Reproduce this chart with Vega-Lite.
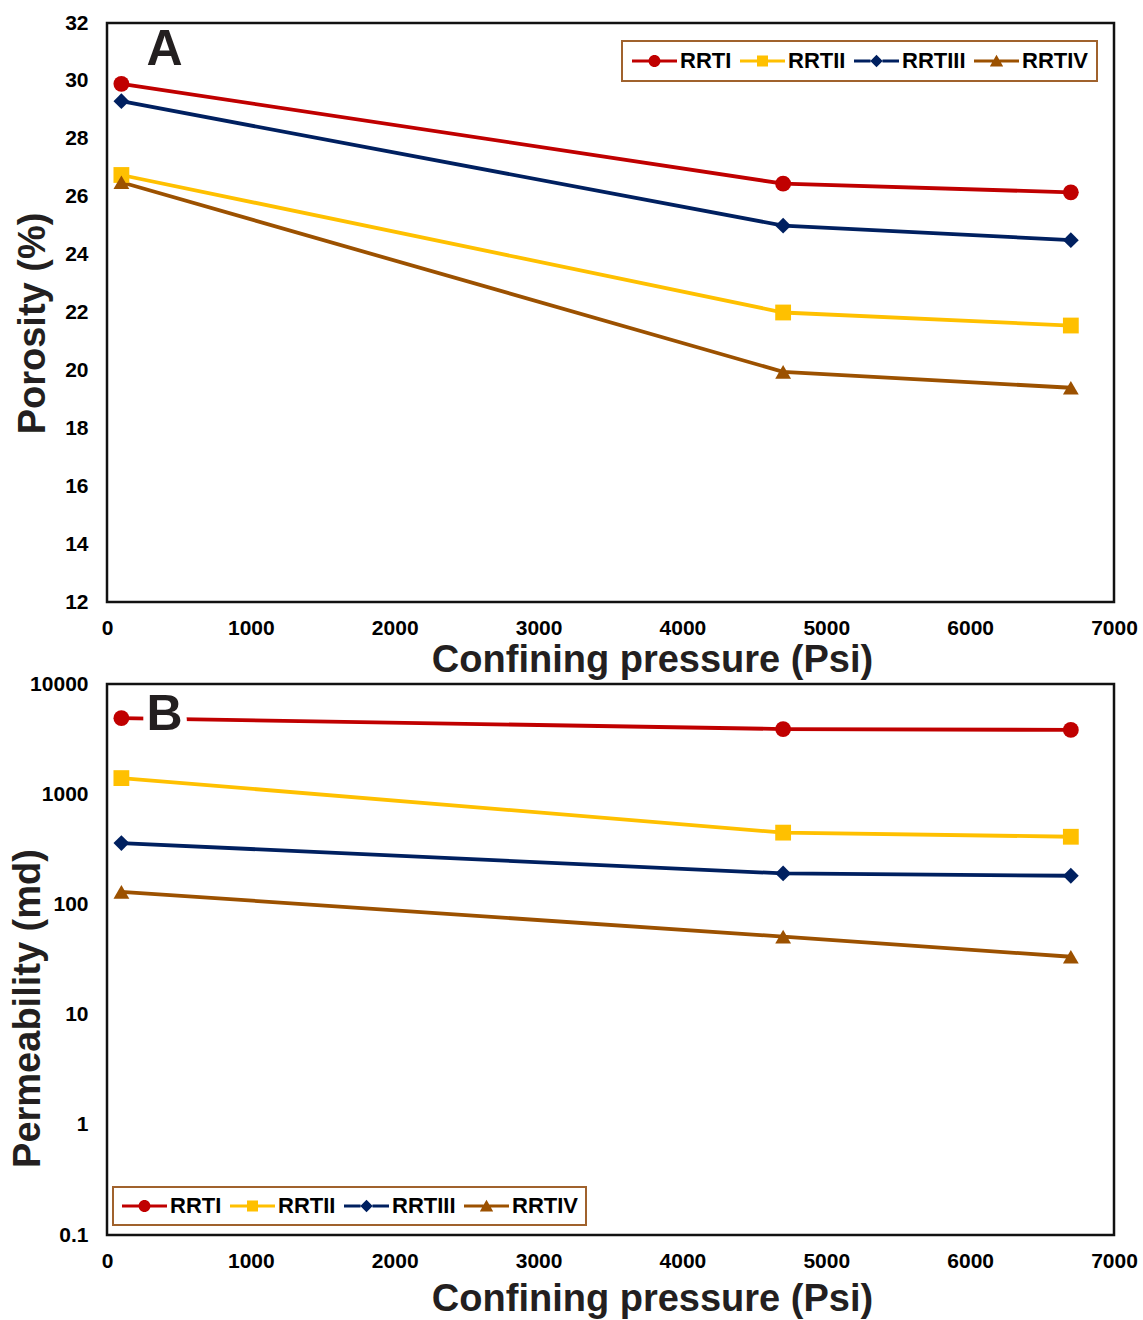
{
  "$schema": "https://vega.github.io/schema/vega-lite/v6.json",
  "background": "white",
  "padding": {"left": 7, "top": 10, "right": 5, "bottom": 0},
  "bounds": "flush",
  "spacing": 82,
  "datasets": {
    "porosity": [
      {"series": "RRTI", "pressure": 100, "value": 29.9},
      {"series": "RRTI", "pressure": 4700, "value": 26.45},
      {"series": "RRTI", "pressure": 6700, "value": 26.15},
      {"series": "RRTII", "pressure": 100, "value": 26.75},
      {"series": "RRTII", "pressure": 4700, "value": 22.0},
      {"series": "RRTII", "pressure": 6700, "value": 21.55},
      {"series": "RRTIII", "pressure": 100, "value": 29.3},
      {"series": "RRTIII", "pressure": 4700, "value": 25.0},
      {"series": "RRTIII", "pressure": 6700, "value": 24.5},
      {"series": "RRTIV", "pressure": 100, "value": 26.5},
      {"series": "RRTIV", "pressure": 4700, "value": 19.95},
      {"series": "RRTIV", "pressure": 6700, "value": 19.4}
    ],
    "permeability": [
      {"series": "RRTI", "pressure": 100, "value": 4900},
      {"series": "RRTI", "pressure": 4700, "value": 3900},
      {"series": "RRTI", "pressure": 6700, "value": 3830},
      {"series": "RRTII", "pressure": 100, "value": 1400},
      {"series": "RRTII", "pressure": 4700, "value": 448},
      {"series": "RRTII", "pressure": 6700, "value": 411},
      {"series": "RRTIII", "pressure": 100, "value": 360},
      {"series": "RRTIII", "pressure": 4700, "value": 191},
      {"series": "RRTIII", "pressure": 6700, "value": 182},
      {"series": "RRTIV", "pressure": 100, "value": 130},
      {"series": "RRTIV", "pressure": 4700, "value": 51},
      {"series": "RRTIV", "pressure": 6700, "value": 33.5}
    ]
  },
  "config": {
    "view": {"stroke": "#111111", "strokeWidth": 2.5},
    "axis": {
      "domain": false, "ticks": false, "tickSize": 0, "grid": false,
      "labelFont": "Liberation Sans", "labelFontWeight": "bold", "labelFontSize": 21, "labelColor": "#000000",
      "labelFlush": false, "labelOverlap": false,
      "titleFont": "Liberation Sans", "titleFontWeight": "bold", "titleFontSize": 38, "titleColor": "#231F20"
    },
    "legend": {
      "labelFont": "Liberation Sans", "labelFontWeight": "bold", "labelFontSize": 22, "labelColor": "#000000",
      "strokeWidth": 2
    }
  },
  "resolve": {"scale": {"color": "independent", "shape": "independent", "size": "independent"}},
  "vconcat": [
    {
      "width": 1007,
      "height": 579,
      "data": {"name": "porosity"},
      "resolve": {"scale": {"color": "independent", "shape": "independent"}},
      "layer": [
        {
          "mark": {"type": "line", "strokeWidth": 3.8},
          "encoding": {
            "x": {"field": "pressure", "type": "quantitative", "scale": {"domain": [0, 7000], "nice": false},
              "axis": {"values": [0, 1000, 2000, 3000, 4000, 5000, 6000, 7000], "format": "d", "labelPadding": 15,
                "title": "Confining pressure (Psi)", "titleX": 545, "titleY": 69, "titleAlign": "center", "titleBaseline": "alphabetic"}},
            "y": {"field": "value", "type": "quantitative", "scale": {"domain": [12, 32], "zero": false, "nice": false},
              "axis": {"values": [12, 14, 16, 18, 20, 22, 24, 26, 28, 30, 32], "labelPadding": 19,
                "title": "Porosity (%)", "titleX": -63, "titleY": 300, "titleAngle": -90, "titleAlign": "center", "titleBaseline": "alphabetic"}},
            "color": {"field": "series", "type": "nominal", "legend": null,
              "scale": {"domain": ["RRTI", "RRTII", "RRTIII", "RRTIV"], "range": ["#C00000", "#FFC000", "#002060", "#9C5100"]}}
          }
        },
        {
          "mark": {"type": "point", "filled": true, "opacity": 1},
          "encoding": {
            "x": {"field": "pressure", "type": "quantitative"},
            "y": {"field": "value", "type": "quantitative"},
            "color": {"field": "series", "type": "nominal", "legend": null,
              "scale": {"domain": ["RRTI", "RRTII", "RRTIII", "RRTIV"], "range": ["#C00000", "#FFC000", "#002060", "#9C5100"]}},
            "shape": {"field": "series", "type": "nominal", "legend": null,
              "scale": {"domain": ["RRTI", "RRTII", "RRTIII", "RRTIV"], "range": ["circle", "square", "diamond", "triangle-up"]}},
            "size": {"field": "series", "type": "nominal", "legend": null,
              "scale": {"domain": ["RRTI", "RRTII", "RRTIII", "RRTIV"], "range": [250, 250, 330, 400]}}
          }
        },
        {
          "mark": {"type": "point", "filled": true, "opacity": 0, "size": 400},
          "encoding": {
            "x": {"field": "pressure", "type": "quantitative"},
            "y": {"field": "value", "type": "quantitative"},
            "color": {"field": "series", "type": "nominal",
              "scale": {"domain": ["RRTI", "RRTII", "RRTIII", "RRTIV"], "range": ["#C00000", "#FFC000", "#002060", "#9C5100"]},
              "legend": {"title": null, "orient": "none", "legendX": 515, "legendY": 18, "direction": "horizontal", "columns": 4,
                "padding": 9, "labelOffset": 27, "columnPadding": 7, "symbolSize": 400, "symbolStrokeWidth": 0, "symbolOpacity": 1,
                "strokeColor": "#A0622D"}},
            "shape": {"field": "series", "type": "nominal",
              "scale": {"domain": ["RRTI", "RRTII", "RRTIII", "RRTIV"], "range": [
                "M-1,-0.16H0.7V0.16H-1Z M1.8,-0.16H3.5V0.16H1.8Z M1.85,0A0.6,0.6,0,1,1,0.65,0A0.6,0.6,0,1,1,1.85,0Z",
                "M-1,-0.16H0.75V0.16H-1Z M1.75,-0.16H3.5V0.16H1.75Z M0.7,-0.55H1.8V0.55H0.7Z",
                "M-1,-0.16H0.65V0.16H-1Z M1.85,-0.16H3.5V0.16H1.85Z M1.25,-0.62L1.87,0L1.25,0.62L0.63,0Z",
                "M-1,-0.16H1V0.16H-1Z M1.5,-0.16H3.5V0.16H1.5Z M1.25,-0.62L1.92,0.55L0.58,0.55Z"]},
              "legend": {"title": null, "orient": "none", "legendX": 515, "legendY": 18, "direction": "horizontal", "columns": 4,
                "padding": 9, "labelOffset": 27, "columnPadding": 7, "symbolSize": 400, "symbolStrokeWidth": 0, "symbolOpacity": 1,
                "strokeColor": "#A0622D"}}
          }
        },
        {
          "data": {"values": [{"panel": "A"}]},
          "mark": {"type": "text", "text": "A", "font": "Liberation Sans", "fontWeight": "bold", "fontSize": 50, "align": "center", "baseline": "alphabetic", "color": "#231F20"},
          "encoding": {
            "x": {"datum": 400, "type": "quantitative"},
            "y": {"datum": 30.55, "type": "quantitative"}
          }
        }
      ]
    },
    {
      "width": 1007,
      "height": 551,
      "data": {"name": "permeability"},
      "resolve": {"scale": {"color": "independent", "shape": "independent"}},
      "layer": [
        {
          "mark": {"type": "line", "strokeWidth": 3.8},
          "encoding": {
            "x": {"field": "pressure", "type": "quantitative", "scale": {"domain": [0, 7000], "nice": false},
              "axis": {"values": [0, 1000, 2000, 3000, 4000, 5000, 6000, 7000], "format": "d", "labelPadding": 15,
                "title": "Confining pressure (Psi)", "titleX": 545, "titleY": 75, "titleAlign": "center", "titleBaseline": "alphabetic"}},
            "y": {"field": "value", "type": "quantitative", "scale": {"type": "log", "domain": [0.1, 10000], "nice": false},
              "axis": {"values": [0.1, 1, 10, 100, 1000, 10000], "format": "~g", "labelPadding": 19,
                "title": "Permeability (md)", "titleX": -68, "titleY": 324, "titleAngle": -90, "titleAlign": "center", "titleBaseline": "alphabetic"}},
            "color": {"field": "series", "type": "nominal", "legend": null,
              "scale": {"domain": ["RRTI", "RRTII", "RRTIII", "RRTIV"], "range": ["#C00000", "#FFC000", "#002060", "#9C5100"]}}
          }
        },
        {
          "data": {"values": [{"panel": "B"}]},
          "mark": {"type": "text", "text": "B", "font": "Liberation Sans", "fontWeight": "bold", "fontSize": 50, "align": "center", "baseline": "alphabetic", "fill": "white", "stroke": "white", "strokeWidth": 13, "strokeJoin": "round"},
          "encoding": {
            "x": {"datum": 400, "type": "quantitative"},
            "y": {"datum": 3820, "type": "quantitative"}
          }
        },
        {
          "data": {"values": [{"panel": "B"}]},
          "mark": {"type": "text", "text": "B", "font": "Liberation Sans", "fontWeight": "bold", "fontSize": 50, "align": "center", "baseline": "alphabetic", "color": "#231F20"},
          "encoding": {
            "x": {"datum": 400, "type": "quantitative"},
            "y": {"datum": 3820, "type": "quantitative"}
          }
        },
        {
          "mark": {"type": "point", "filled": true, "opacity": 1},
          "encoding": {
            "x": {"field": "pressure", "type": "quantitative"},
            "y": {"field": "value", "type": "quantitative"},
            "color": {"field": "series", "type": "nominal", "legend": null,
              "scale": {"domain": ["RRTI", "RRTII", "RRTIII", "RRTIV"], "range": ["#C00000", "#FFC000", "#002060", "#9C5100"]}},
            "shape": {"field": "series", "type": "nominal", "legend": null,
              "scale": {"domain": ["RRTI", "RRTII", "RRTIII", "RRTIV"], "range": ["circle", "square", "diamond", "triangle-up"]}},
            "size": {"field": "series", "type": "nominal", "legend": null,
              "scale": {"domain": ["RRTI", "RRTII", "RRTIII", "RRTIV"], "range": [250, 250, 330, 400]}}
          }
        },
        {
          "mark": {"type": "point", "filled": true, "opacity": 0, "size": 400},
          "encoding": {
            "x": {"field": "pressure", "type": "quantitative"},
            "y": {"field": "value", "type": "quantitative"},
            "color": {"field": "series", "type": "nominal",
              "scale": {"domain": ["RRTI", "RRTII", "RRTIII", "RRTIV"], "range": ["#C00000", "#FFC000", "#002060", "#9C5100"]},
              "legend": {"title": null, "orient": "none", "legendX": 6, "legendY": 503, "direction": "horizontal", "columns": 4,
                "padding": 8, "labelOffset": 27, "columnPadding": 7, "symbolSize": 400, "symbolStrokeWidth": 0, "symbolOpacity": 1,
                "strokeColor": "#A0622D"}},
            "shape": {"field": "series", "type": "nominal",
              "scale": {"domain": ["RRTI", "RRTII", "RRTIII", "RRTIV"], "range": [
                "M-1,-0.16H0.7V0.16H-1Z M1.8,-0.16H3.5V0.16H1.8Z M1.85,0A0.6,0.6,0,1,1,0.65,0A0.6,0.6,0,1,1,1.85,0Z",
                "M-1,-0.16H0.75V0.16H-1Z M1.75,-0.16H3.5V0.16H1.75Z M0.7,-0.55H1.8V0.55H0.7Z",
                "M-1,-0.16H0.65V0.16H-1Z M1.85,-0.16H3.5V0.16H1.85Z M1.25,-0.62L1.87,0L1.25,0.62L0.63,0Z",
                "M-1,-0.16H1V0.16H-1Z M1.5,-0.16H3.5V0.16H1.5Z M1.25,-0.62L1.92,0.55L0.58,0.55Z"]},
              "legend": {"title": null, "orient": "none", "legendX": 6, "legendY": 503, "direction": "horizontal", "columns": 4,
                "padding": 8, "labelOffset": 27, "columnPadding": 7, "symbolSize": 400, "symbolStrokeWidth": 0, "symbolOpacity": 1,
                "strokeColor": "#A0622D"}}
          }
        }
      ]
    }
  ]
}
